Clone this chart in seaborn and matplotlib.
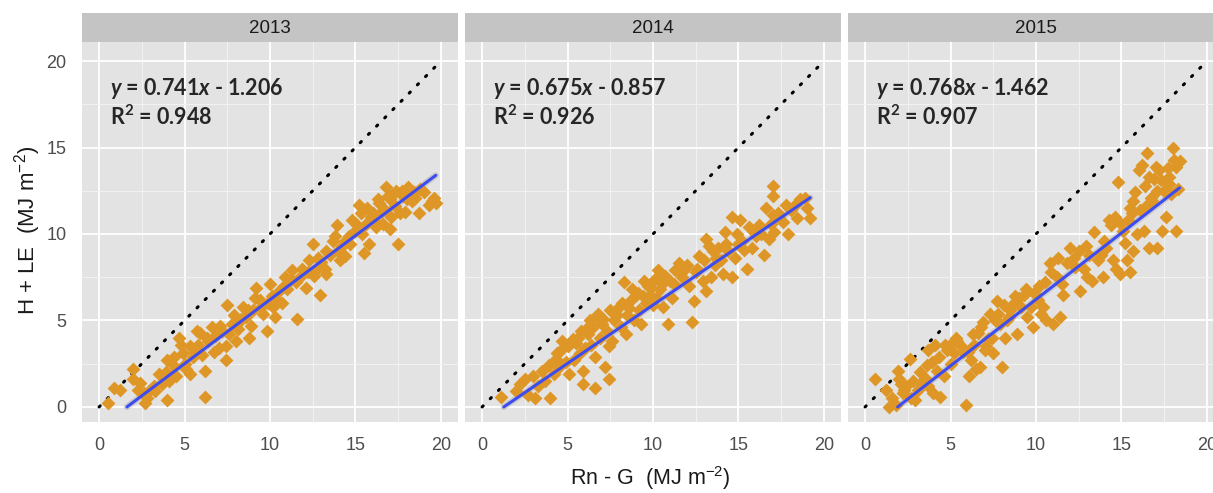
import numpy as np
import pandas as pd
import matplotlib
matplotlib.use("Agg")
import matplotlib.pyplot as plt
import seaborn as sns

sns.set_style("white")
plt.rcParams['font.family'] = ['Liberation Sans', 'DejaVu Sans']
plt.rcParams['mathtext.fontset'] = 'custom'
plt.rcParams['mathtext.rm'] = 'Liberation Sans'
plt.rcParams['mathtext.it'] = 'Lato:bold:italic'
plt.rcParams['mathtext.bf'] = 'Lato:bold'

# ---------------- data ----------------
years = ["2013", "2014", "2015"]

x_2013 = [0.5, 0.9, 1.2, 2.0, 2.0, 2.3, 2.7, 2.6, 3.0, 2.8, 3.3, 3.5, 3.7, 4.0, 4.1, 4.0, 4.3, 4.5, 4.7, 4.9,
          5.0, 5.3, 5.3, 5.5, 5.7, 5.8, 6.0, 6.2, 6.2, 6.4, 6.6, 6.8, 7.0, 7.2, 7.4, 7.4, 7.5, 7.8, 8.0, 8.1,
          8.3, 8.4, 8.6, 8.8, 8.9, 9.0, 9.2, 9.4, 9.6, 9.8, 10.0, 10.1, 10.2, 10.3, 10.5, 10.7, 10.9, 11.0, 11.3, 11.5,
          11.6, 11.8, 12.1, 12.3, 12.5, 12.6, 12.7, 12.9, 13.0, 13.3, 13.3, 13.5, 13.7, 13.9, 14.1, 14.2, 14.4, 14.4, 14.6, 14.8,
          15.0, 15.2, 15.4, 15.5, 15.6, 15.8, 15.9, 16.0, 16.2, 16.4, 16.6, 16.7, 16.8, 17.0, 17.0, 17.2, 17.3, 17.4, 17.5, 17.6,
          17.8, 17.9, 18.1, 18.3, 18.5, 18.7, 19.0, 19.3, 19.5,
          2.4, 3.2, 3.9, 4.4, 4.8, 5.1, 5.6, 5.9, 6.3, 6.7, 7.1, 7.6, 7.9, 8.2, 8.7, 9.1, 9.5, 9.9, 10.4, 10.8,
          11.2, 11.9, 12.2, 12.8, 13.2, 13.8, 14.0, 14.7, 15.1, 15.3, 15.7, 16.1, 16.3, 16.5, 16.9, 17.1, 17.7, 18.0, 18.4, 18.8,
          19.6, 19.7]
y_2013 = [0.2, 1.1, 1.0, 2.2, 1.6, 1.0, 0.2, 0.8, 1.0, 0.5, 0.9, 1.9, 1.3, 2.7, 1.5, 0.4, 2.4, 1.8, 4.0, 3.1,
          2.5, 3.5, 1.9, 2.9, 4.4, 3.6, 3.0, 2.1, 0.6, 3.8, 4.6, 4.1, 3.4, 4.4, 2.7, 3.5, 5.9, 4.8, 3.8, 4.5,
          5.1, 5.8, 5.2, 4.0, 4.7, 5.6, 6.9, 6.2, 5.4, 4.4, 7.1, 6.4, 5.8, 5.2, 6.7, 6.0, 7.5, 6.8, 7.9, 7.2,
          5.1, 7.6, 6.9, 8.5, 9.4, 7.6, 7.9, 6.5, 8.4, 7.7, 9.0, 8.8, 9.6, 10.5, 8.5, 9.3, 8.7, 9.6, 9.9, 10.8,
          10.2, 11.7, 10.0, 8.9, 10.6, 9.4, 11.0, 11.2, 10.4, 11.8, 10.6, 11.4, 12.7, 10.3, 12.0, 12.3, 11.6, 12.5, 9.4, 11.2,
          12.2, 11.3, 12.7, 11.9, 12.1, 11.2, 12.4, 11.7, 11.9,
          1.4, 1.2, 2.0, 2.9, 3.6, 2.2, 3.2, 4.3, 4.0, 3.2, 4.7, 4.2, 5.3, 4.9, 5.6, 6.3, 5.8, 6.0, 6.2, 7.0,
          7.4, 8.0, 7.8, 8.6, 8.0, 9.9, 9.0, 9.4, 10.5, 11.2, 11.5, 10.8, 12.0, 11.3, 12.2, 11.0, 12.5, 12.0, 12.4, 12.6,
          12.1, 11.8]

x_2014 = [1.1, 2.2, 2.7, 3.1, 3.3, 3.5, 3.7, 4.0, 4.2, 4.4, 4.5, 4.7, 4.9, 5.1, 5.4, 5.5, 5.7, 5.9, 5.9, 6.0,
          6.2, 6.4, 6.5, 6.6, 6.6, 6.8, 6.9, 7.0, 7.2, 7.3, 7.4, 7.4, 7.6, 7.7, 7.8, 8.0, 8.1, 8.3, 8.4, 8.5,
          8.7, 8.9, 9.0, 9.2, 9.3, 9.5, 9.6, 9.8, 10.0, 10.2, 10.3, 10.5, 10.6, 10.9, 11.0, 11.1, 11.3, 11.5, 11.7, 11.9,
          12.1, 12.3, 12.4, 12.5, 12.7, 12.9, 13.1, 13.1, 13.4, 13.5, 13.6, 13.8, 14.0, 14.1, 14.2, 14.4, 14.6, 14.6, 14.8, 15.0,
          15.1, 15.2, 15.5, 15.6, 15.8, 16.0, 16.2, 16.5, 16.6, 16.8, 17.0, 17.0, 17.0, 17.1, 17.4, 17.6, 17.9, 18.1, 18.3, 18.4,
          18.9, 19.2,
          2.0, 2.5, 3.0, 3.9, 4.3, 4.6, 5.0, 5.3, 5.6, 5.8, 6.1, 6.3, 6.7, 7.1, 7.5, 7.9, 8.2, 8.6, 8.8, 9.1,
          9.4, 9.7, 9.9, 10.1, 10.4, 10.7, 11.2, 11.4, 11.8, 12.0, 12.6, 13.0, 13.3, 13.7, 14.3, 14.9, 15.3, 15.9, 16.3, 16.9,
          17.3, 17.8, 18.6, 19.0]
y_2014 = [0.6, 1.3, 0.7, 0.5, 1.2, 2.1, 1.5, 0.5, 1.9, 3.1, 2.3, 3.8, 2.6, 1.9, 2.7, 3.7, 3.1, 2.1, 1.3, 3.4,
          4.2, 3.6, 4.6, 2.9, 1.1, 5.4, 4.0, 4.8, 2.3, 4.4, 1.6, 3.5, 3.8, 5.0, 5.4, 5.8, 4.6, 7.2, 4.2, 5.3,
          6.2, 5.0, 6.5, 5.6, 4.8, 7.3, 6.0, 6.5, 5.9, 6.3, 7.9, 7.1, 5.8, 4.8, 7.3, 6.3, 7.9, 8.3, 7.5, 8.1,
          7.0, 4.9, 6.1, 7.8, 8.7, 7.3, 9.7, 6.7, 7.5, 9.0, 8.2, 9.2, 8.5, 7.7, 10.1, 9.0, 11.0, 7.5, 8.6, 9.4,
          10.8, 9.6, 8.0, 10.4, 9.2, 9.9, 10.5, 8.8, 11.5, 9.7, 11.1, 12.2, 12.8, 10.1, 11.0, 10.7, 10.0, 11.4, 11.7, 10.9,
          12.1, 10.9,
          0.9, 1.6, 1.8, 2.4, 2.8, 3.3, 3.5, 3.9, 4.0, 4.4, 4.5, 5.0, 5.2, 5.1, 5.6, 5.3, 6.0, 5.7, 6.8, 6.6,
          6.4, 7.0, 6.9, 7.4, 6.8, 7.6, 7.1, 8.0, 7.9, 8.2, 8.0, 8.5, 9.3, 8.6, 9.4, 10.0, 9.1, 10.1, 10.0, 10.6,
          11.2, 11.7, 12.0, 11.5]

x_2015 = [0.6, 1.2, 1.4, 1.8, 1.9, 2.1, 2.2, 2.4, 2.6, 2.7, 2.9, 3.1, 3.3, 3.5, 3.7, 3.7, 4.0, 4.1, 4.2, 4.4,
          4.6, 4.8, 5.0, 5.2, 5.4, 5.6, 5.9, 6.0, 6.1, 6.2, 6.4, 6.5, 6.7, 6.8, 7.0, 7.1, 7.3, 7.4, 7.5, 7.7,
          7.9, 8.0, 8.2, 8.3, 8.5, 8.7, 8.9, 9.0, 9.3, 9.5, 9.7, 9.8, 10.1, 10.3, 10.4, 10.6, 10.8, 11.0, 11.2, 11.4,
          11.5, 11.6, 12.0, 12.2, 12.6, 12.8, 12.9, 13.0, 13.3, 13.6, 13.8, 13.9, 14.1, 14.3, 14.5, 14.7, 14.8, 14.9, 15.1, 15.2,
          15.3, 15.4, 15.5, 15.5, 15.7, 15.7, 15.9, 16.0, 16.1, 16.2, 16.3, 16.5, 16.5, 16.6, 16.6, 16.8, 17.0, 17.1, 17.1, 17.2,
          17.4, 17.5, 17.6, 17.7, 17.8, 17.9, 18.0, 18.1, 18.2, 18.2, 18.4,
          1.6, 2.0, 2.3, 2.8, 3.2, 3.6, 3.9, 4.3, 4.7, 5.1, 5.3, 5.7, 6.3, 6.6, 6.9, 7.2, 7.6, 7.8, 8.1, 8.4,
          8.8, 9.1, 9.4, 9.9, 10.2, 10.5, 10.9, 11.3, 11.8, 12.3, 12.5, 13.1, 13.4, 14.0, 14.4, 14.6, 15.0, 15.6, 15.8, 16.4,
          16.7, 16.9, 17.3, 17.8, 18.3]
y_2015 = [1.6, 1.0, 0.0, 0.1, 2.1, 1.3, 0.8, 1.2, 2.8, 0.5, 0.4, 1.0, 1.4, 1.7, 3.3, 1.2, 0.8, 3.6, 2.1, 0.6,
          1.8, 3.3, 2.5, 3.1, 3.8, 3.5, 0.1, 3.2, 1.8, 2.7, 3.6, 2.2, 2.3, 4.6, 3.3, 3.5, 5.4, 4.0, 3.1, 6.1,
          4.8, 2.3, 4.0, 5.0, 5.6, 6.0, 4.2, 6.3, 6.5, 5.2, 5.8, 4.6, 6.2, 5.4, 5.8, 5.0, 8.3, 4.8, 7.5, 5.2,
          7.1, 6.5, 9.2, 8.6, 6.7, 8.0, 9.3, 7.5, 7.3, 8.5, 8.8, 7.5, 9.2, 10.8, 8.5, 8.0, 13.0, 7.7, 10.2, 9.5,
          8.5, 10.8, 11.5, 7.8, 9.0, 11.9, 10.0, 13.7, 11.4, 14.0, 10.2, 11.7, 14.7, 9.2, 13.3, 11.9, 13.9, 9.2, 12.5, 13.7,
          10.2, 12.5, 11.0, 13.8, 12.9, 12.3, 15.0, 14.3, 13.9, 10.2, 14.2,
          0.5, 1.6, 1.0, 1.5, 2.0, 2.4, 2.6, 2.9, 3.6, 3.7, 4.0, 3.2, 4.2, 4.3, 4.9, 3.9, 5.0, 5.4, 5.9, 5.2,
          6.4, 5.8, 6.8, 6.6, 7.0, 7.2, 7.8, 8.6, 8.3, 8.1, 9.0, 8.8, 10.1, 9.6, 10.5, 11.0, 10.6, 11.2, 12.4, 12.8,
          12.1, 13.2, 13.1, 13.3, 12.6]

slopes = [0.741, 0.675, 0.768]
intercepts = [-1.206, -0.857, -1.462]
r_squared = [0.948, 0.926, 0.907]
one_to_one = [0, 20]
ticks = [0, 5, 10, 15, 20]

xs = [x_2013, x_2014, x_2015]
ys = [y_2013, y_2014, y_2015]

# ---------------- style ----------------
W, H = 1213, 493
fig = plt.figure(figsize=(W / 100, H / 100), dpi=100)
fig.patch.set_facecolor("white")

panel_bg = "#E3E3E3"
strip_bg = "#C4C4C4"
pt_col = "#DE9726"
line_col = "#3D4CF0"
tick_col = "#4D4D4D"

panel_lefts = [82, 465, 848]
panel_w = 376
panel_top, panel_bot = 42, 422
strip_top = 13

for i, yr in enumerate(years):
    left = panel_lefts[i] / W
    ax = fig.add_axes([left, (H - panel_bot) / H, panel_w / W, (panel_bot - panel_top) / H])
    ax.set_facecolor(panel_bg)
    for s in ax.spines.values():
        s.set_visible(False)

    ax.set_xlim(-1.0, 21.0)
    ax.set_ylim(-0.87, 21.1)
    ax.set_xticks(ticks)
    ax.set_yticks(ticks)
    ax.set_xticks([2.5, 7.5, 12.5, 17.5], minor=True)
    ax.set_yticks([2.5, 7.5, 12.5, 17.5], minor=True)
    ax.grid(True, which="major", color="white", lw=1.3)
    ax.grid(True, which="minor", color="#F2F2F2", lw=0.7)
    ax.set_axisbelow(True)
    ax.tick_params(axis="both", which="major", direction="out", length=5, width=1,
                   color="#8C8C8C", labelcolor=tick_col, labelsize=13, pad=6)
    ax.tick_params(axis="both", which="minor", length=0)
    if i > 0:
        ax.tick_params(axis="y", which="major", labelleft=False, length=0)

    df = pd.DataFrame({"x": xs[i], "y": ys[i]})
    # 1:1 line
    sns.lineplot(x=one_to_one, y=one_to_one, ax=ax, color="black", lw=2.2,
                 linestyle=(0, (0.5, 3.3)), dash_capstyle="round", zorder=2)
    # fitted line from reported regression
    x0 = -intercepts[i] / slopes[i]
    xf = np.linspace(x0, max(xs[i]), 60)
    yf = slopes[i] * xf + intercepts[i]
    sns.lineplot(x=xf, y=yf, ax=ax, color="#9A9A9A", lw=4.5, alpha=0.35, zorder=3)
    # points
    sns.scatterplot(data=df, x="x", y="y", ax=ax, marker="D", s=50, color=pt_col,
                    linewidth=0, zorder=4)
    sns.lineplot(x=xf, y=yf, ax=ax, color=line_col, lw=2.2, zorder=5)

    ax.set_xlabel("")
    ax.set_ylabel("")

    ax.text(0.64, 18.4, r"$y$ = " + f"{slopes[i]:.3f}" + r"$x$" + f" - {abs(intercepts[i]):.3f}",
            family="Lato", fontweight="bold", fontsize=15.5, va="center", ha="left", zorder=6)
    ax.text(0.64, 16.8, r"R$^{\mathbf{2}}$" + f" = {r_squared[i]:.3f}",
            family="Lato", fontweight="bold", fontsize=15.5, va="center", ha="left", zorder=6)

    # strip
    sax = fig.add_axes([left, (H - panel_top) / H, panel_w / W, (panel_top - strip_top) / H])
    sax.set_facecolor(strip_bg)
    for s in sax.spines.values():
        s.set_visible(False)
    sax.set_xticks([])
    sax.set_yticks([])
    sax.text(0.5, 0.45, yr, ha="center", va="center", fontsize=13.5, color="#1A1A1A",
             transform=sax.transAxes)

fig.text(650 / W, 1 - 478 / H, r"Rn - G  (MJ m$^{-2}$)", ha="center", va="center", fontsize=15.5,
         color="#1A1A1A")
fig.text(28 / W, 1 - 230 / H, r"H + LE  (MJ m$^{-2}$)", ha="center", va="center", fontsize=16,
         rotation=90, color="#1A1A1A")

fig.savefig("out.png", dpi=100, facecolor="white")
